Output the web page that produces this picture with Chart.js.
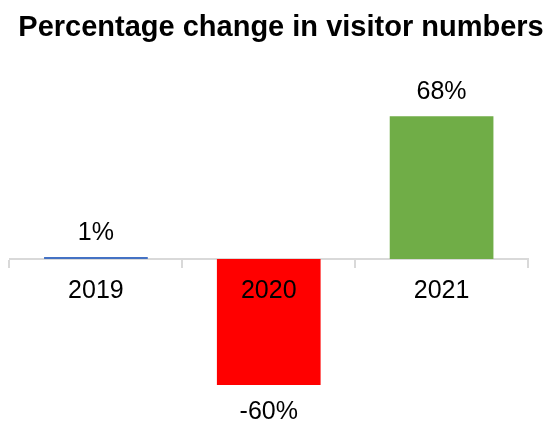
<!DOCTYPE html>
<html>
<head>
<meta charset="utf-8">
<script src="https://cdn.jsdelivr.net/npm/chart.js@4"></script>
<style>
  html, body { margin: 0; padding: 0; background: #fff; }
  #wrap { width: 550px; height: 423px; }
</style>
</head>
<body>
<div id="wrap"><canvas id="visitorChart"></canvas></div>
<script>
const years = ['2019', '2020', '2021'];
const changePct = [1, -60, 68];
const barColors = ['#4472c4', '#ff0000', '#70ad47'];
const chartTitle = 'Percentage change in visitor numbers';

const FONT = "'Liberation Sans', Arial, sans-serif";

// value labels above / below each bar
const valueLabels = {
    id: 'valueLabels',
    afterDatasetsDraw(chart) {
        const ctx = chart.ctx;
        const meta = chart.getDatasetMeta(0);
        ctx.save();
        ctx.font = '25px ' + FONT;
        ctx.fillStyle = '#000';
        ctx.textAlign = 'center';
        ctx.textBaseline = 'alphabetic';
        meta.data.forEach((bar, i) => {
            const v = changePct[i];
            const y = v >= 0 ? bar.y - 17 : bar.y + 34;
            ctx.fillText(v + '%', bar.x, y);
        });
        ctx.restore();
    }
};

// title, drawn a bit right of centre like the original
const titleText = {
    id: 'titleText',
    afterDraw(chart) {
        const ctx = chart.ctx;
        ctx.save();
        ctx.font = 'bold 29px ' + FONT;
        ctx.fillStyle = '#000';
        ctx.textAlign = 'center';
        ctx.textBaseline = 'alphabetic';
        ctx.fillText(chartTitle, 281, 36);
        ctx.restore();
    }
};

new Chart(document.getElementById('visitorChart'), {
    type: 'bar',
    data: {
        labels: years,
        datasets: [{
            data: changePct,
            backgroundColor: barColors,
            borderWidth: 0,
            barPercentage: 0.6,
            categoryPercentage: 1
        }]
    },
    options: {
        responsive: true,
        maintainAspectRatio: false,
        animation: false,
        layout: { padding: { left: 9.5, right: 22, top: 70, bottom: 17 } },
        plugins: {
            legend: { display: false },
            tooltip: { enabled: false },
            title: { display: false }
        },
        scales: {
            x: {
                position: { y: 0 },
                grid: {
                    display: true,
                    offset: true,
                    drawOnChartArea: false,
                    drawTicks: true,
                    tickLength: 8,
                    color: '#d9d9d9',
                    lineWidth: 2
                },
                border: { display: true, color: '#d9d9d9', width: 2 },
                ticks: {
                    z: 1,
                    color: '#000',
                    padding: 9,
                    font: { family: FONT, size: 25 }
                }
            },
            y: {
                display: false,
                min: -70,
                max: 90
            }
        }
    },
    plugins: [valueLabels, titleText]
});
</script>
</body>
</html>
